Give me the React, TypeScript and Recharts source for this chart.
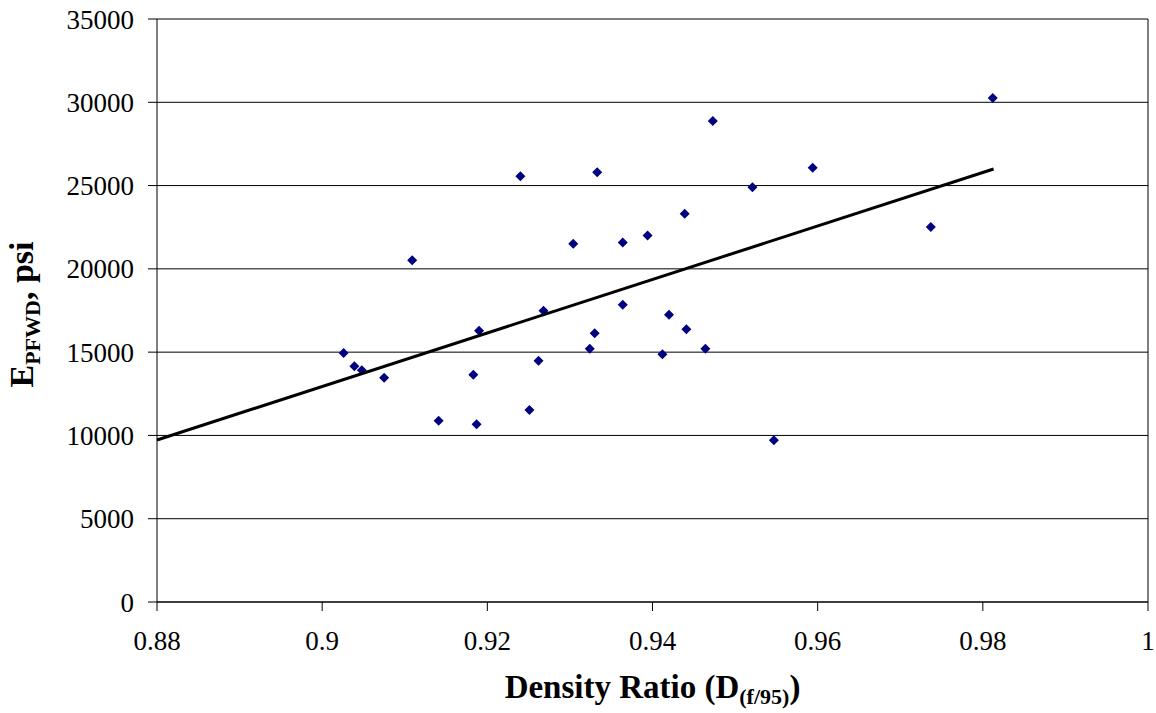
import React from 'react';
import { ScatterChart, Scatter, XAxis, YAxis, CartesianGrid, ReferenceLine } from 'recharts';

const densityRatio = [
  0.9026, 0.9039, 0.9048, 0.9075, 0.9109, 0.9141, 0.9183, 0.9187, 0.919, 0.924,
  0.9251, 0.9262, 0.9268, 0.9304, 0.9324, 0.933, 0.9333, 0.9364, 0.9364, 0.9394,
  0.9412, 0.942, 0.9439, 0.9441, 0.9464, 0.9473, 0.9521, 0.9547, 0.9594, 0.9737,
  0.9812,
];
const modulusPsi = [
  14950, 14150, 13910, 13470, 20510, 10880, 13650, 10670, 16290, 25560,
  11530, 14490, 17490, 21510, 15210, 16130, 25800, 17850, 21580, 22010,
  14870, 17250, 23310, 16370, 15210, 28880, 24900, 9710, 26070, 22510,
  30260,
];
const trendX = [0.88, 0.9813];
const trendY = [9726, 25995];
const xTicks = [0.88, 0.9, 0.92, 0.94, 0.96, 0.98, 1];
const yTicks = [0, 5000, 10000, 15000, 20000, 25000, 30000, 35000];

const points = densityRatio.map((x, i) => ({ x, y: modulusPsi[i] }));
const trend = trendX.map((x, i) => ({ x, y: trendY[i] }));

const FONT = '"Liberation Serif", "Times New Roman", serif';

const Diamond = (props: any) => {
  const { cx, cy } = props;
  if (cx == null || cy == null) return <g />;
  const r = 5;
  return (
    <polygon
      points={`${cx},${cy - r} ${cx + r},${cy} ${cx},${cy + r} ${cx - r},${cy}`}
      fill="#000080"
    />
  );
};

const YTitle = (props: any) => {
  const vb = props.viewBox || {};
  const x = 33;
  const y = (vb.y ?? 19) + (vb.height ?? 583) / 2 + 4;
  return (
    <text
      x={x}
      y={y}
      transform={`rotate(-90, ${x}, ${y})`}
      textAnchor="middle"
      fontFamily={FONT}
      fontWeight="bold"
      fontSize={34}
      fill="#000"
    >
      <tspan>E</tspan>
      <tspan fontSize={22} dy={7}>PFWD</tspan>
      <tspan dy={-7}>, psi</tspan>
    </text>
  );
};

const XTitle = (props: any) => {
  const vb = props.viewBox || {};
  const x = (vb.x ?? 157) + (vb.width ?? 991) / 2;
  const y = 698;
  return (
    <text
      x={x}
      y={y}
      textAnchor="middle"
      fontFamily={FONT}
      fontWeight="bold"
      fontSize={33}
      fill="#000"
    >
      <tspan>Density Ratio (D</tspan>
      <tspan fontSize={22} dy={6}>(f/95)</tspan>
      <tspan dy={-6}>)</tspan>
    </text>
  );
};

const fmtX = (v: number) => String(Number(v.toFixed(2)));

export default function App() {
  return (
    <div style={{ position: 'absolute', left: 0, top: 0, width: 1156, height: 713, background: '#fff' }}>
      <ScatterChart
        width={1156}
        height={713}
        margin={{ top: 19, right: 8, bottom: 0, left: 0 }}
      >
        <CartesianGrid horizontal vertical={false} stroke="#000" strokeWidth={1} />
        <XAxis
          type="number"
          dataKey="x"
          domain={[0.88, 1]}
          ticks={xTicks}
          tickFormatter={fmtX}
          height={111}
          tickSize={9}
          tickMargin={20}
          axisLine={{ stroke: '#000' }}
          tickLine={{ stroke: '#000' }}
          tick={{ fill: '#000', fontSize: 27, fontFamily: FONT }}
          label={{ content: XTitle }}
        />
        <YAxis
          type="number"
          dataKey="y"
          domain={[0, 35000]}
          ticks={yTicks}
          width={157}
          tickSize={9}
          tickMargin={14}
          axisLine={{ stroke: '#000' }}
          tickLine={{ stroke: '#000' }}
          tick={{ fill: '#000', fontSize: 27, fontFamily: FONT }}
          label={{ content: YTitle }}
        />
        <ReferenceLine x={1} stroke="#000" strokeWidth={1} />
        <Scatter data={points} shape={Diamond} isAnimationActive={false} />
        <Scatter
          data={trend}
          line={{ stroke: '#000', strokeWidth: 3 }}
          shape={() => <g />}
          isAnimationActive={false}
        />
      </ScatterChart>
    </div>
  );
}
